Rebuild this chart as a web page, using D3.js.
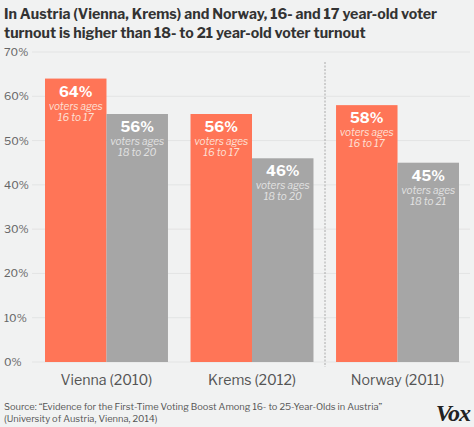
<!DOCTYPE html>
<html><head><meta charset="utf-8">
<script src="https://cdn.jsdelivr.net/npm/d3@7"></script>
<style>
html,body{margin:0;padding:0;background:#f1f2f2;}
svg{display:block;}
</style></head>
<body><div id="chart"></div>
<script>
const categories = ["Vienna (2010)", "Krems (2012)", "Norway (2011)"];
const youngValues = [64, 56, 58];
const olderValues = [56, 46, 45];
const youngLabels = ["16 to 17", "16 to 17", "16 to 17"];
const olderLabels = ["18 to 20", "18 to 20", "18 to 21"];
const yTicks = [0, 10, 20, 30, 40, 50, 60, 70];
const titleLines = ["In Austria (Vienna, Krems) and Norway, 16- and 17 year-old voter",
                    "turnout is higher than 18- to 21 year-old voter turnout"];
const sourceLines = ["Source: \u201cEvidence for the First-Time Voting Boost Among 16- to 25-Year-Olds in Austria\u201d",
                     "(University of Austria, Vienna, 2014)"];

const W = 474, H = 427;
const svg = d3.select("#chart").append("svg").attr("width", W).attr("height", H);
svg.append("rect").attr("width", W).attr("height", H).attr("fill", "#f1f2f2");

const font = "'Libre Franklin', 'Lato', 'Roboto', sans-serif";

// title
svg.append("g").selectAll("text").data(titleLines).join("text")
  .attr("x", 4).attr("y", (d, i) => 19 + i * 18.5)
  .attr("font-family", font).attr("font-weight", 700).attr("font-size", 14.2)
  .attr("fill", "#333").text(d => d);

const y = d3.scaleLinear().domain([0, 70]).range([362, 52]);
const x0 = d3.scaleBand().domain(categories).range([45, 459]).paddingInner(0.155).paddingOuter(0);
const x1 = d3.scaleBand().domain(["young", "older"]).range([0, x0.bandwidth()]);

// grid
const grid = svg.append("g");
grid.selectAll("line").data(yTicks).join("line")
  .attr("x1", 32).attr("x2", 470)
  .attr("y1", d => y(d)).attr("y2", d => y(d))
  .attr("stroke", "#e3e4e4").attr("stroke-width", 1);
grid.selectAll("text").data(yTicks).join("text")
  .attr("x", 4).attr("y", d => y(d) + 4)
  .attr("font-family", font).attr("font-size", 11).attr("fill", "#666")
  .text(d => d + "%");

// divider
svg.append("line").attr("x1", 325).attr("x2", 325).attr("y1", 62).attr("y2", 367)
  .attr("stroke", "#aaa").attr("stroke-width", 1).attr("stroke-dasharray", "2,1.5");

const rows = categories.map((c, i) => ([
  {cat: c, key: "young", v: youngValues[i], lab: youngLabels[i]},
  {cat: c, key: "older", v: olderValues[i], lab: olderLabels[i]}
])).flat();

const color = {young: "#ff7557", older: "#a6a6a6"};
const sub = {young: "#fde0d6", older: "#e2e2e2"};

const bars = svg.append("g").selectAll("g").data(rows).join("g")
  .attr("transform", d => `translate(${x0(d.cat) + x1(d.key)},0)`);
bars.append("rect")
  .attr("x", 0).attr("width", x1.bandwidth())
  .attr("y", d => y(d.v)).attr("height", d => y(0) - y(d.v))
  .attr("fill", d => color[d.key]);
bars.append("text")
  .attr("x", x1.bandwidth() / 2).attr("y", d => y(d.v) + 18)
  .attr("text-anchor", "middle").attr("font-family", font).attr("font-weight", 700)
  .attr("font-size", 14.5).attr("fill", "#fff").text(d => d.v + "%");
bars.append("text")
  .attr("x", x1.bandwidth() / 2).attr("y", d => y(d.v) + 31)
  .attr("text-anchor", "middle").attr("font-family", font).attr("font-style", "italic")
  .attr("font-size", 10).attr("fill", d => sub[d.key]).text("voters ages");
bars.append("text")
  .attr("x", x1.bandwidth() / 2).attr("y", d => y(d.v) + 42)
  .attr("text-anchor", "middle").attr("font-family", font).attr("font-style", "italic")
  .attr("font-size", 10).attr("fill", d => sub[d.key]).text(d => d.lab);

// category labels
svg.append("g").selectAll("text").data(categories).join("text")
  .attr("x", d => x0(d) + x0.bandwidth() / 2).attr("y", 385)
  .attr("text-anchor", "middle").attr("font-family", font).attr("font-size", 14.2)
  .attr("fill", "#555").text(d => d);

// source
svg.append("g").selectAll("text").data(sourceLines).join("text")
  .attr("x", 4).attr("y", (d, i) => 410 + i * 12)
  .attr("font-family", font).attr("font-size", 9.3).attr("fill", "#555").text(d => d);

// logo
svg.append("text").attr("x", 470).attr("y", 421).attr("text-anchor", "end")
  .attr("font-family", "'Liberation Serif', 'DejaVu Serif', serif")
  .attr("font-weight", 700).attr("font-style", "italic").attr("font-size", 24)
  .attr("letter-spacing", -1)
  .attr("fill", "#222").text("Vox");
</script></body></html>
